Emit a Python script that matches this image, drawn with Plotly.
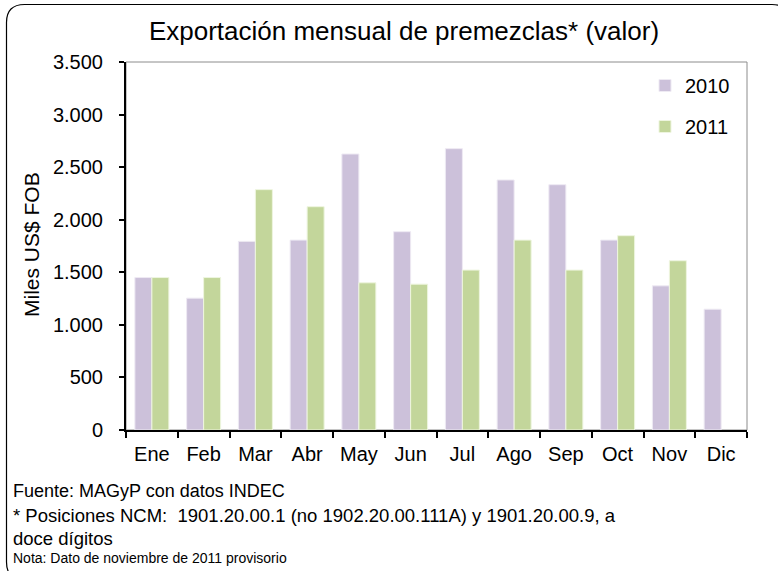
import plotly.graph_objects as go

meses = ["Ene", "Feb", "Mar", "Abr", "May", "Jun", "Jul", "Ago", "Sep", "Oct", "Nov", "Dic"]
valores_2010 = [1450, 1254, 1794, 1806, 2625, 1886, 2676, 2378, 2333, 1806, 1371, 1149]
valores_2011 = [1450, 1450, 2286, 2124, 1400, 1387, 1521, 1806, 1521, 1848, 1610, None]
y_ticks = [0, 500, 1000, 1500, 2000, 2500, 3000, 3500]

W, H = 778, 571
L, R, T, B = 126, 747, 62, 430


def px(x):
    return (x - L) / (R - L)


def py(y):
    return (B - y) / (B - T)


FONT = "Liberation Sans, Arial, sans-serif"

fig = go.Figure()
fig.add_trace(go.Bar(x=meses, y=valores_2010, name="2010",
                     marker=dict(color="#CCC1DA", line=dict(color="#EEEAF3", width=1)),
                     legendgroup="a"))
fig.add_trace(go.Bar(x=meses, y=valores_2011, name="2011",
                     marker=dict(color="#C3D69B", line=dict(color="#EEF5DF", width=1)),
                     legendgroup="b"))

# rounded outer border (decoration)
x0, x1, y0, y1, r = 6.5, 790, 4.5, 580, 18
path = (f"M {px(x0)},{py(y0 + r)} Q {px(x0)},{py(y0)} {px(x0 + r)},{py(y0)} "
        f"L {px(x1 - r)},{py(y0)} Q {px(x1)},{py(y0)} {px(x1)},{py(y0 + r)} "
        f"L {px(x1)},{py(y1 - r)} Q {px(x1)},{py(y1)} {px(x1 - r)},{py(y1)} "
        f"L {px(x0 + r)},{py(y1)} Q {px(x0)},{py(y1)} {px(x0)},{py(y1 - r)} Z")
fig.add_shape(type="path", xref="paper", yref="paper", path=path,
              line=dict(color="black", width=1.2), layer="below")
# plot area border
fig.add_shape(type="rect", xref="paper", yref="paper", x0=0, x1=1, y0=0, y1=1,
              line=dict(color="#8C8C8C", width=1), layer="below")

notes = [
    ("Fuente: MAGyP con datos INDEC", 491, 18),
    ("* Posiciones NCM:  1901.20.00.1 (no 1902.20.00.111A) y 1901.20.00.9, a", 515, 18.5),
    ("doce dígitos", 538, 18.5),
    ("Nota: Dato de noviembre de 2011 provisorio", 558, 14),
]
for txt, yy, fs in notes:
    fig.add_annotation(text=txt, xref="paper", yref="paper", x=px(11), y=py(yy),
                       xanchor="left", yanchor="middle", showarrow=False,
                       font=dict(family=FONT, size=fs, color="black"))

fig.add_annotation(text="Miles US$ FOB", xref="paper", yref="paper", x=px(31), y=py(244),
                   xanchor="center", yanchor="middle", textangle=-90, showarrow=False,
                   font=dict(family=FONT, size=21, color="black"))

fig.update_layout(
    width=W, height=H,
    margin=dict(l=L, r=W - R, t=T, b=H - B),
    paper_bgcolor="white", plot_bgcolor="white",
    separators=",.",
    barmode="group", bargap=0.343, bargroupgap=0,
    font=dict(family=FONT, size=20, color="black"),
    title=dict(text="Exportación mensual de premezclas* (valor)", x=404 / W, xanchor="center",
               y=1 - 31 / H, yanchor="middle", xref="container", yref="container",
               font=dict(family=FONT, size=26, color="black")),
    legend=dict(x=px(645), y=py(66), xanchor="left", yanchor="top",
                bgcolor="rgba(0,0,0,0)", font=dict(family=FONT, size=20),
                traceorder="grouped", tracegroupgap=12, itemwidth=30),
    showlegend=True,
    xaxis=dict(type="category", showline=True, linecolor="black", linewidth=2,
               ticks="outside", tickson="boundaries", ticklen=6, tickcolor="black", tickwidth=1.5,
               showgrid=False, tickfont=dict(family=FONT, size=20), ticklabelstandoff=5),
    yaxis=dict(range=[0, 3500], tickvals=y_ticks, tickformat=",d",
               showline=True, linecolor="black", linewidth=2,
               ticks="outside", ticklen=5, tickcolor="black", tickwidth=1.5,
               showgrid=False, zeroline=False, tickfont=dict(family=FONT, size=20),
               ticklabelstandoff=12),
)

fig.write_html("out.html", config={"displayModeBar": False},
               post_script="document.body.style.margin='0';")
